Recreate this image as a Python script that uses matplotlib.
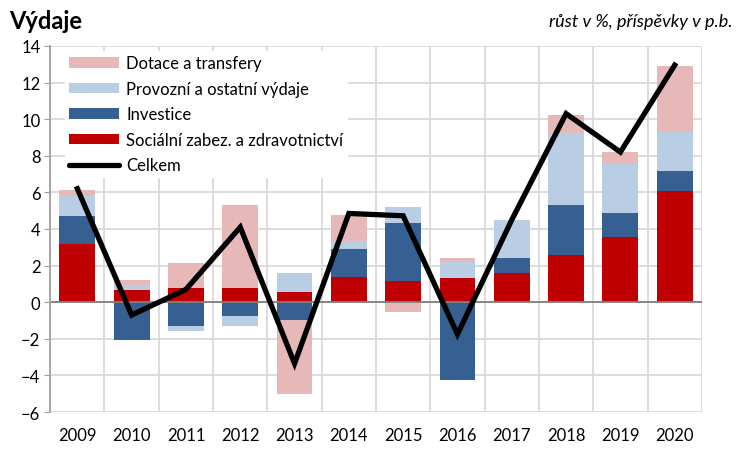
import numpy as np
import matplotlib.pyplot as plt

roky = ['2009', '2010', '2011', '2012', '2013', '2014', '2015', '2016',
        '2017', '2018', '2019', '2020']

# příspěvky v p.b.
socialni = [3.2, 0.67, 0.8, 0.77, 0.55, 1.4, 1.17, 1.3, 1.59, 2.6, 3.55, 6.1]
investice = [1.5, -2.05, -1.3, -0.73, -0.95, 1.5, 3.15, -4.25, 0.8, 2.7, 1.33, 1.05]
provozni = [1.15, 0.27, -0.27, -0.57, 1.05, 0.43, 0.88, 0.96, 2.1, 3.95, 2.75, 2.15]
dotace = [0.3, 0.27, 1.34, 4.53, -4.05, 1.43, -0.55, 0.13, 0.0, 0.98, 0.58, 3.6]
celkem = [6.2, -0.7, 0.7, 4.1, -3.35, 4.85, 4.72, -1.75, 4.5, 10.3, 8.2, 12.95]

plt.rcParams['font.family'] = ['Lato', 'DejaVu Sans']

fig = plt.figure(figsize=(7.38, 4.6), dpi=100)
ax = fig.add_axes([0.068, 0.102, 0.883, 0.796])
ax.set_axisbelow(True)

x = np.arange(len(roky))
pos = np.zeros(len(roky))
neg = np.zeros(len(roky))
serie = [
    (socialni, '#C00000', 'Sociální zabez. a zdravotnictví'),
    (investice, '#376092', 'Investice'),
    (provozni, '#B9CDE5', 'Provozní a ostatní výdaje'),
    (dotace, '#E6B9B8', 'Dotace a transfery'),
]
handles = []
for vals, barva, nazev in serie:
    v = np.array(vals)
    spodek = np.where(v >= 0, pos, neg)
    b = ax.bar(x, v, 0.66, bottom=spodek, color=barva, label=nazev, zorder=2)
    handles.append(b)
    pos = pos + np.where(v >= 0, v, 0)
    neg = neg + np.where(v < 0, v, 0)

ln, = ax.plot(x, celkem, color='black', lw=3.8, label='Celkem', zorder=3,
              solid_joinstyle='miter')

ax.set_xlim(-0.5, len(roky) - 0.5)
ax.set_ylim(-6, 14)
ax.set_yticks(np.arange(-6, 15, 2))
ax.set_xticks(x)
ax.set_xticklabels(roky)
ax.set_xticks(np.arange(-0.5, len(roky), 1), minor=True)
ax.tick_params(axis='x', which='both', length=0, labelsize=12, pad=11, colors='black')
ax.tick_params(axis='y', length=4, color='#A0A0A0', labelsize=12, pad=3)
ax.grid(axis='y', which='major', color='#D9D9D9', lw=1.3)
ax.grid(axis='x', which='minor', color='#D9D9D9', lw=1.3)
ax.axhline(0, color='#808080', lw=1.3, zorder=2.5)
for s in ['top', 'right', 'bottom']:
    ax.spines[s].set_visible(False)
ax.spines['left'].set_color('#A0A0A0')
ax.spines['left'].set_linewidth(1.3)

poradi = [handles[3], handles[2], handles[1], handles[0], ln]
leg = ax.legend(poradi, [h.get_label() for h in poradi],
                loc='upper left', bbox_to_anchor=(0.018, 0.995), frameon=True,
                fontsize=12, handlelength=3.0, handleheight=0.6,
                labelspacing=0.57, handletextpad=0.4, borderaxespad=0.2,
                borderpad=0.25, fancybox=False)
leg.get_frame().set_facecolor('white')
leg.get_frame().set_edgecolor('white')
leg.get_frame().set_alpha(1.0)
leg.set_zorder(1)
leg.get_lines()[0].set_solid_capstyle('round')

fig.text(0.013, 0.953, 'Výdaje', fontsize=17, fontweight='bold', ha='left', va='center')
fig.text(0.992, 0.953, 'růst v %, příspěvky v p.b.', fontsize=13, style='italic',
         ha='right', va='center')

fig.savefig('out.png', dpi=100)
